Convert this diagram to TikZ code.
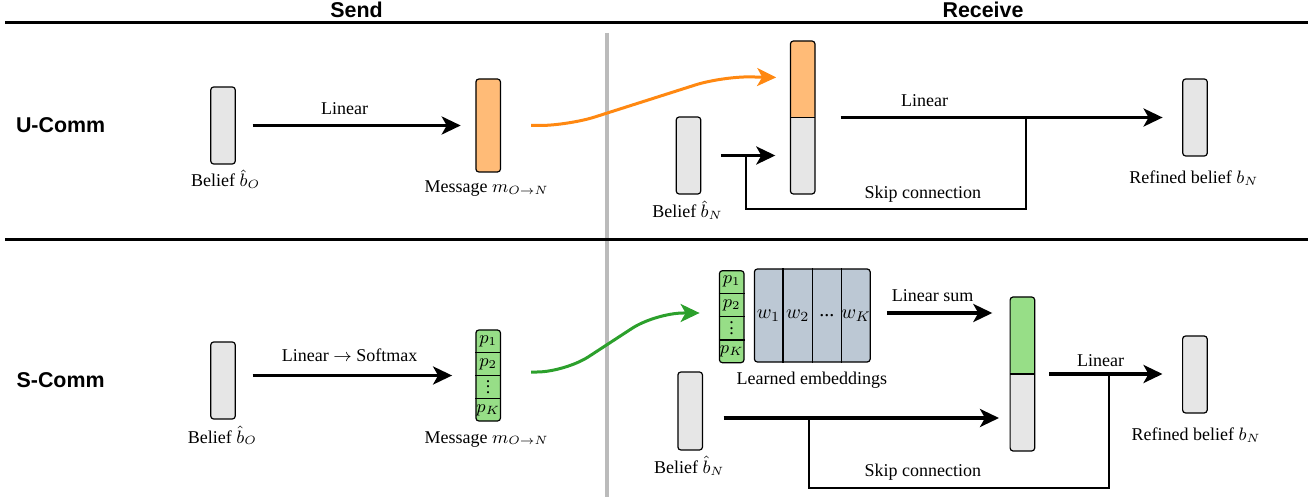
\documentclass[tikz,border=0pt]{standalone}
\usepackage{fontspec}
\setmainfont{Liberation Serif}
\newfontfamily\hdfont{Liberation Sans}
\usetikzlibrary{arrows.meta,calc}
\definecolor{bgray}{HTML}{E6E6E6}
\definecolor{ofill}{HTML}{FFBB77}
\definecolor{gfill}{HTML}{97DE87}
\definecolor{efill}{HTML}{BCC8D4}
\definecolor{oline}{HTML}{FF8811}
\definecolor{gline}{HTML}{2CA02C}
\definecolor{sepcol}{HTML}{BBBBBB}
\newcommand\myvdots{\vbox{\baselineskip=2.9pt\lineskiplimit=0pt\hbox{.}\hbox{.}\hbox{.}}}
\begin{document}
\begin{tikzpicture}[x=0.5pt,y=-0.5pt,
 vbox/.style={draw,line width=0.6pt,rounded corners=1.5pt,fill=bgray,inner sep=0pt,minimum width=12.3pt},
 lbl/.style={font=\fontsize{9}{10.8}\selectfont,anchor=base,inner sep=0pt},
 hdr/.style={font=\hdfont\bfseries\fontsize{10.7}{12}\selectfont,anchor=base,inner sep=0pt},
 tipstyle/.style={-{Stealth[length=9.5pt,width=9pt,inset=2.5pt]}},
 arr/.style={line width=1.6pt,tipstyle},
 skipline/.style={line width=1pt},
 curv/.style={line width=1.5pt,rounded corners=14pt,tipstyle},
 cell/.style={font=\fontsize{10}{12}\selectfont,inner sep=0pt},
 pcell/.style={font=\fontsize{9}{10}\selectfont,inner sep=0pt},
 dcell/.style={font=\fontsize{9}{10}\selectfont,inner sep=0pt},
 divline/.style={line width=0.6pt},
 split/.style={path picture={
   \fill[#1] (path picture bounding box.north west) rectangle (path picture bounding box.east);
   \draw[divline] (path picture bounding box.west) -- (path picture bounding box.east);}},
]
\useasboundingbox (0,0) rectangle (1312,497);

% headers and separators
\node[hdr] (send) at (356.5,18) {Send};
\node[hdr] (recv) at (983,18) {Receive};
\node[hdr] (ucomm) at (60.6,133) {U-Comm};
\node[hdr] (scomm) at (60.6,387) {S-Comm};
\coordinate (tl) at (5,23);  \coordinate (tr) at (1308,23);
\coordinate (ml) at (5,240); \coordinate (mr) at (1308,240);
\coordinate (vt) at (607,33); \coordinate (vb) at (607,497);
\draw[sepcol,line width=2pt] (vt) -- (vb);
\draw[line width=1.5pt] (tl) -- (tr);
\draw[line width=1.5pt] (ml) -- (mr);

%%%%%%%% U-Comm
\node[vbox,minimum height=38.5pt] (b1) at (223,125.5) {};
\node[vbox,fill=ofill,minimum height=46.5pt] (m1) at (488.2,125.5) {};
\node[lbl] (lb1) at (225.6,187) {Belief $\hat{b}_O$};
\node[lbl] (lm1) at (486.5,193) {Message $m_{O\rightarrow N}$};
\draw[arr,shorten <=8.4pt,shorten >=7.3pt] (b1.east) -- (m1.west);
\node[lbl] (llin1) at (344.5,115) {Linear};

\node[vbox,minimum height=38.5pt] (bn1) at (688.5,155.5) {};
\node[vbox,minimum height=76.5pt,split=ofill] (cu) at (802.7,117.5) {};
\node[vbox,minimum height=38.5pt] (rb1) at (1195,117.5) {};
\node[lbl] (lbn1) at (687.4,218) {Belief $\hat{b}_N$};
\node[lbl] (lrb1) at (1193.8,184) {Refined belief $b_N$};
\node[lbl] (llin2) at (924.7,107) {Linear};
\node[lbl] (lsk1) at (922.9,199) {Skip connection};

\coordinate (oS) at ([xshift=15pt]m1.east);
\coordinate (oE) at ([xshift=-6.8pt,yshift=-18.5pt]cu.north west);
\draw[oline,curv] (oS) -- ++(18.5pt,0) -- ($(oE)+(-27pt,0.5pt)$) -- (oE);

\draw[arr,shorten <=9.75pt,shorten >=7.25pt] (bn1.east) -- (bn1.east -| cu.west);
\draw[arr,shorten <=12.5pt,shorten >=9.75pt] (cu.east) -- (rb1.west);
\coordinate (j1) at (1025.5,117.5);
\coordinate (sb1) at (746.2,209);
\coordinate (k1) at (746.2,155.5);
\draw[skipline] (j1) |- (sb1) -- (k1);

%%%%%%%% S-Comm
\node[vbox,minimum height=38.5pt] (b2) at (223,380.5) {};
\node[vbox,fill=gfill,minimum height=45.5pt] (m2) at (488.2,375.5) {};
\node[lbl] (lb2) at (222.4,443) {Belief $\hat{b}_O$};
\node[lbl] (lm2) at (486.5,443) {Message $m_{O\rightarrow N}$};
\draw[arr,shorten <=8.4pt,shorten >=11.6pt] (b2.east |- m2.west) -- (m2.west);
\node[lbl] (llin3) at (349.7,362) {Linear $\rightarrow$ Softmax};

\node[vbox,fill=gfill,minimum height=46pt] (pc) at (731.7,316.7) {};
\foreach \n in {m2,pc}{
  \foreach \f in {0.25,0.5,0.75}
    \draw[divline] ($(\n.north west)!\f!(\n.south west)$) -- ($(\n.north east)!\f!(\n.south east)$);
  \node[pcell] at ($(\n.north)!0.125!(\n.south)$) {$p_1$};
  \node[pcell] at ($(\n.north)!0.375!(\n.south)$) {$p_2$};
  \node[dcell] at ($(\n.north)!0.625!(\n.south)$) {\myvdots};
  \node[pcell] at ($(\n.north)!0.875!(\n.south)$) {$p_K$};
}
\node[vbox,fill=efill,minimum width=57.9pt,minimum height=46.5pt] (emb) at (812.3,315.5) {};
\foreach \f in {0.25,0.5,0.75}
  \draw[divline] ($(emb.north west)!\f!(emb.north east)$) -- ($(emb.south west)!\f!(emb.south east)$);
\node[cell] (w1) at ($(emb.west)!0.125!(emb.east)$) {$w_1$};
\node[cell] (w2) at ($(emb.west)!0.375!(emb.east)$) {$w_2$};
\node[cell] (w3) at ($(emb.west)!0.625!(emb.east)$) {...};
\node[cell] (w4) at ($(emb.west)!0.875!(emb.east)$) {$w_K$};
\node[lbl] (lemb) at (811.9,385) {Learned embeddings};

\coordinate (gS) at ([xshift=15pt,yshift=1.75pt]m2.east);
\coordinate (gE) at ([xshift=-9.6pt,yshift=1.85pt]pc.west);
\draw[gline,curv] (gS) -- ++(17pt,0) -- ($(gE)+(-22pt,0)$) -- (gE);

\node[vbox,minimum height=77pt,split=gfill] (cs) at (1022.4,374) {};
\node[vbox,minimum height=39pt] (bn2) at (690.2,411) {};
\node[vbox,minimum height=38.5pt] (rb2) at (1194.9,374.5) {};
\node[lbl] (lbn2) at (689.2,473) {Belief $\hat{b}_N$};
\node[lbl] (lrb2) at (1196,440) {Refined belief $b_N$};
\node[lbl] (llsum) at (932.7,301) {Linear sum};
\node[lbl] (llin4) at (1100.7,366) {Linear};
\node[lbl] (lsk2) at (922.9,476) {Skip connection};

\coordinate (ls1) at ([yshift=1.25pt]emb.east);
\draw[arr,shorten <=8pt,shorten >=8.6pt] (ls1) -- (ls1 -| cs.west);
\coordinate (a2s) at ([yshift=-3.5pt]bn2.east);
\draw[arr,shorten <=10.2pt,shorten >=5.25pt] (a2s) -- (a2s -| cs.west);
\draw[arr,shorten <=7pt,shorten >=9.75pt] (cs.east) -- (cs.east -| rb2.west);
\coordinate (k2) at (808.9,418);
\coordinate (sb2) at (1108.6,488);
\coordinate (j2) at (1108.6,374);
\draw[skipline] (k2) |- (sb2) -- (j2);
\end{tikzpicture}
\end{document}
